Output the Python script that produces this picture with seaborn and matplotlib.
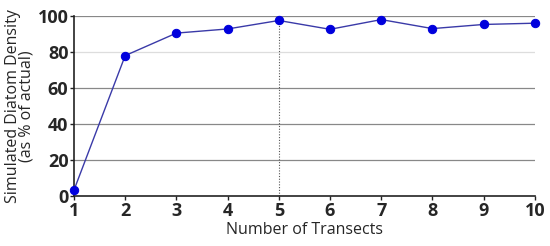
import matplotlib
matplotlib.use("Agg")
import matplotlib.pyplot as plt
import seaborn as sns
import pandas as pd

# --- Datos ---
transects = [1, 2, 3, 4, 5, 6, 7, 8, 9, 10]
density = [3.3, 78.0, 90.5, 92.8, 97.5, 92.6, 98.0, 93.0, 95.3, 96.0]
df = pd.DataFrame({"transects": transects, "density": density})

sns.set_style("white")
plt.rcParams["font.family"] = ["Open Sans", "DejaVu Sans"]

fig = plt.figure(figsize=(5.5, 2.46), dpi=100)
ax = fig.add_axes([0.1345, 0.203, 0.838, 0.732])

# lineas de referencia
for yv in [20, 40, 60, 80, 100]:
    ax.axhline(yv, color="#888888" if yv != 80 else "#dddddd", lw=0.9, zorder=0)

ax.plot([5, 5], [0, 97.5], color="#555555", lw=0.8, ls=(0, (1, 1.5)), zorder=1)

sns.lineplot(data=df, x="transects", y="density", ax=ax, color="#3a3aa8",
             lw=1.0, marker="o", markersize=6, markerfacecolor="#0000dd",
             markeredgecolor="#0000dd", zorder=3, clip_on=False)

ax.set_xlim(1, 10)
ax.set_ylim(0, 100)
ax.set_xticks(transects)
ax.set_yticks([0, 20, 40, 60, 80, 100])
ax.tick_params(axis="both", labelsize=13, length=3, width=1, color="#222222", pad=1)
for lbl in ax.get_xticklabels() + ax.get_yticklabels():
    lbl.set_fontweight("bold")

ax.set_xlabel("Number of Transects", fontsize=11.5, labelpad=2)
ax.set_ylabel("Simulated Diatom Density\n(as % of actual)", fontsize=11.5, labelpad=2, linespacing=0.85)

sns.despine(ax=ax)
for s in ["left", "bottom"]:
    ax.spines[s].set_color("#222222")
    ax.spines[s].set_linewidth(1.2)
ax.tick_params(axis="both", which="both", bottom=True, left=True)

plt.savefig("out.png", dpi=100)
